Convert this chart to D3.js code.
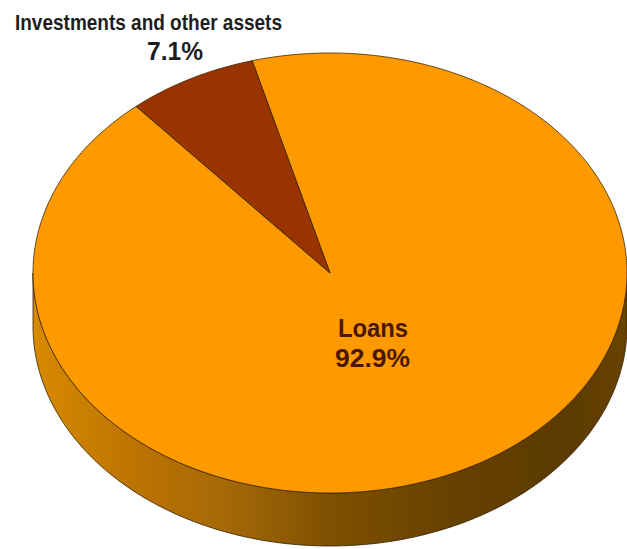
<!DOCTYPE html>
<html>
<head>
<meta charset="utf-8">
<script src="https://cdn.jsdelivr.net/npm/d3@7/dist/d3.min.js"></script>
<style>
  html, body { margin: 0; padding: 0; background: #ffffff; }
  svg { display: block; }
  text { font-family: "Liberation Sans", Arial, sans-serif; font-weight: bold; }
</style>
</head>
<body>
<svg id="chart" width="627" height="549"></svg>
<script>
// Asset composition
const categories = ["Loans", "Investments and other assets"];
const shares = [92.9, 7.1];
const shareLabels = ["92.9%", "7.1%"];
const sliceColors = ["#FF9900", "#993300"];

const W = 627, H = 549;
const cx = 330, cy = 273;     // centre of the top face
const rx = 297, ry = 220;     // ellipse radii of the tilted disc
const depth = 53;             // thickness of the disc
const startDeg = -15.2;       // where the first slice begins (clockwise from 12 o'clock)

const svg = d3.select("#chart");

const pie = d3.pie().sort(null).value(d => d)
  .startAngle(startDeg * Math.PI / 180)
  .endAngle(startDeg * Math.PI / 180 + 2 * Math.PI);
const arcs = pie(shares);

// project a pie angle onto the tilted ellipse
const px = a => cx + rx * Math.sin(a);
const py = (a, dz = 0) => cy - ry * Math.cos(a) + dz;

function rimPoints(a0, a1, dz = 0) {
  const n = Math.max(2, Math.ceil(Math.abs(a1 - a0) / 0.01));
  return d3.range(n + 1).map(i => {
    const a = a0 + (a1 - a0) * i / n;
    return [px(a), py(a, dz)];
  });
}

const line = d3.line();

// side gradient: lit on the left, deep brown on the right
const defs = svg.append("defs");
const grad = defs.append("linearGradient").attr("id", "side")
  .attr("gradientUnits", "userSpaceOnUse")
  .attr("x1", cx - rx).attr("y1", 0).attr("x2", cx + rx).attr("y2", 0);
[[0, "#D88A00"], [0.15, "#C07500"], [0.33, "#A56808"], [0.5, "#7E5000"],
 [0.72, "#654000"], [0.9, "#5C3A00"], [1, "#684300"]]
  .forEach(([o, c]) => grad.append("stop").attr("offset", o).attr("stop-color", c));

// the visible side wall spans the front half of the disc (90° .. 270°)
const frontA0 = Math.PI / 2, frontA1 = 3 * Math.PI / 2;
arcs.forEach((d, i) => {
  const a0 = Math.max(d.startAngle, frontA0);
  const a1 = Math.min(d.endAngle, frontA1);
  if (a1 <= a0) return;
  const top = rimPoints(a0, a1, 0);
  const bottom = rimPoints(a1, a0, depth);
  svg.append("path")
    .attr("d", line(top.concat(bottom)) + "Z")
    .attr("fill", i === 0 ? "url(#side)" : d3.color(sliceColors[i]).darker(1))
    .attr("stroke", "#2e1e00")
    .attr("stroke-width", 0.8)
    .attr("stroke-linejoin", "round");
});

// top faces
arcs.forEach((d, i) => {
  const pts = [[cx, cy]].concat(rimPoints(d.startAngle, d.endAngle, 0));
  svg.append("path")
    .attr("d", line(pts) + "Z")
    .attr("fill", sliceColors[i])
    .attr("stroke", "#3a2600")
    .attr("stroke-width", 0.8)
    .attr("stroke-linejoin", "round");
});

// labels
const g = svg.append("g");
// Loans, on the slice
g.append("text").attr("x", 338).attr("y", 337)
  .attr("font-size", 25).attr("fill", "#4a1800")
  .attr("textLength", 70).attr("lengthAdjust", "spacingAndGlyphs")
  .text(categories[0]);
g.append("text").attr("x", 335).attr("y", 367)
  .attr("font-size", 25).attr("fill", "#4a1800")
  .attr("textLength", 75).attr("lengthAdjust", "spacingAndGlyphs")
  .text(shareLabels[0]);

// Investments, outside the disc
g.append("text").attr("x", 15).attr("y", 30)
  .attr("font-size", 22).attr("fill", "#1e1e1e")
  .attr("textLength", 267).attr("lengthAdjust", "spacingAndGlyphs")
  .text(categories[1]);
g.append("text").attr("x", 147).attr("y", 60)
  .attr("font-size", 25).attr("fill", "#1e1e1e")
  .attr("textLength", 56).attr("lengthAdjust", "spacingAndGlyphs")
  .text(shareLabels[1]);
</script>
</body>
</html>
